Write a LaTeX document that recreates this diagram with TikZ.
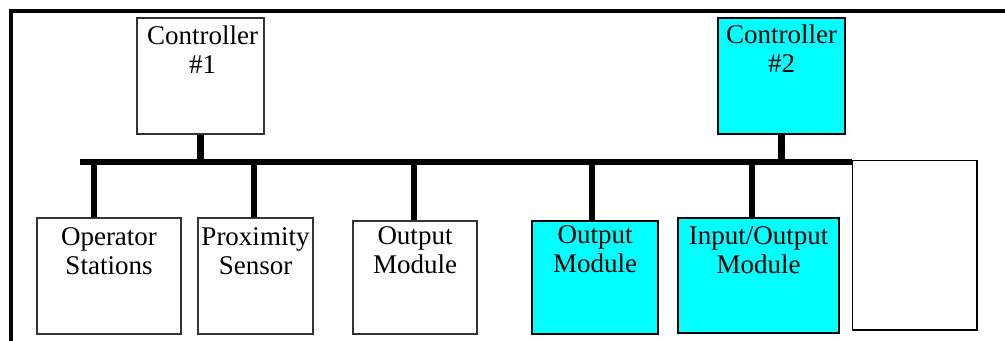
\documentclass[tikz,border=0pt]{standalone}
\usepackage{fontspec}
\setmainfont{Liberation Serif}
\usetikzlibrary{fit}
\definecolor{modcyan}{RGB}{0,255,255}
\begin{document}
\begin{tikzpicture}[x=0.75pt,y=-0.75pt,
  box/.style={draw=black!80, line width=1.1pt, inner sep=0pt},
  hot/.style={box, draw=black, fill=modcyan},
  lbl/.style={align=center, font=\fontsize{20.25}{22}\selectfont, inner sep=0pt, anchor=base},
  bus/.style={line width=4.5pt},
  stub/.style={line width=5pt},
  frame/.style={line width=3pt}]
\useasboundingbox (0,0) rectangle (1005,341);
\clip (0,0) rectangle (1005,341);

% outer frame
\draw[frame] (10.5,360) -- (10.5,10.7) -- (1020,10.7);

% controllers
\node[box, fit={(137,18)(264,134)}] (c1) {};
\node[hot, fit={(718,18)(845,134)}] (c2) {};

% field devices
\node[box, fit={(37,218)(181,334)}] (os) {};
\node[box, fit={(198,218)(313,334)}] (ps) {};
\node[box, fit={(353,221)(477,334)}] (om1) {};
\node[hot, fit={(532,221)(658,334)}] (om2) {};
\node[hot, fit={(678,218)(839,333)}] (io) {};
\node[box, draw=black, fit={(852.5,160.5)(977,330)}] (spare) {};

% labels (base anchor sits on the last line)
\node[lbl] (c1t) at ([xshift=1.5pt]c1.north |- 0,73.5) {Controller\\\#1};
\node[lbl] (c2t) at (c2.north |- 0,72.5) {Controller\\\#2};
\node[lbl] (ost) at (os.north |- 0,275) {Operator\\Stations};
\node[lbl] (pst) at (ps.north |- 0,275) {Proximity\\Sensor};
\node[lbl] (om1t) at (om1.north |- 0,274) {Output\\Module};
\node[lbl] (om2t) at (om2.north |- 0,273) {Output\\Module};
\node[lbl] (iot) at (io.north |- 0,274) {Input/Output\\Module};

% network bus
\coordinate (busL) at (80,162);
\draw[bus] (busL) -- (busL -| spare.west);

% drops to the bus
\draw[stub] (c1.south) -- (c1.south |- busL);
\draw[stub] (c2.south) -- (c2.south |- busL);
\draw[stub] ([xshift=-11.25pt]os.north) -- ([xshift=-11.25pt]os.north |- busL);
\draw[stub] ([xshift=-1.1pt]ps.north) -- ([xshift=-1.1pt]ps.north |- busL);
\draw[stub] ([xshift=-0.75pt]om1.north) -- ([xshift=-0.75pt]om1.north |- busL);
\draw[stub] ([xshift=-2.25pt]om2.north) -- ([xshift=-2.25pt]om2.north |- busL);
\draw[stub] ([xshift=-4.9pt]io.north) -- ([xshift=-4.9pt]io.north |- busL);
\end{tikzpicture}
\end{document}
